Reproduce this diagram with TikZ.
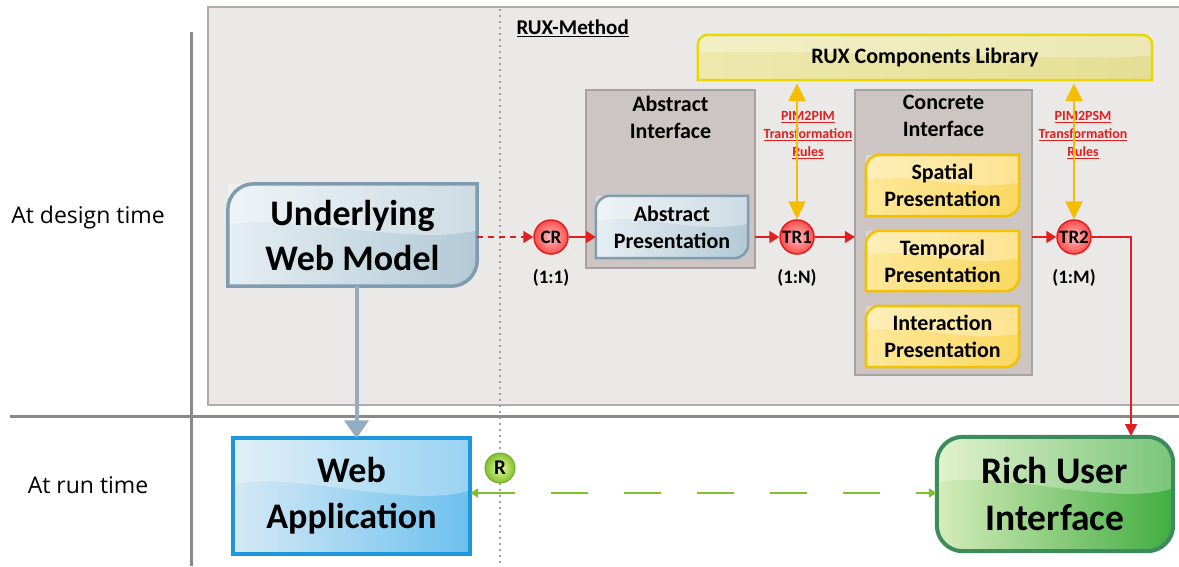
\documentclass[tikz,border=0pt]{standalone}
\usepackage{fontspec}
\setmainfont{Carlito}
\newfontfamily\osans{Open Sans}
\usetikzlibrary{arrows.meta,calc,shadings}
\pgfdeclarelayer{back}
\pgfdeclarelayer{bg}
\pgfsetlayers{back,bg,main}

\definecolor{regfill}{HTML}{EBE9E7}
\definecolor{regdraw}{HTML}{B3ABAB}
\definecolor{sepline}{HTML}{8A8A8A}
\definecolor{ifill}{HTML}{CDC4C4}
\definecolor{idraw}{HTML}{A9A1A1}
\definecolor{bluedraw}{HTML}{7F9CB0}
\definecolor{blueL}{HTML}{E6EEF3}
\definecolor{blueR}{HTML}{B2C9D5}
\definecolor{wadraw}{HTML}{1E96DC}
\definecolor{waL}{HTML}{D6E9F4}
\definecolor{waR}{HTML}{6CC0EE}
\definecolor{ruidraw}{HTML}{3D8A5C}
\definecolor{ruiL}{HTML}{D6ECBA}
\definecolor{ruiR}{HTML}{40AD40}
\definecolor{libdraw}{HTML}{E8D800}
\definecolor{libL}{HTML}{EDE9AE}
\definecolor{libR}{HTML}{E4DE94}
\definecolor{ydraw}{HTML}{F2C200}
\definecolor{yL}{HTML}{FDE89A}
\definecolor{yR}{HTML}{FBD862}
\definecolor{redc}{HTML}{E02020}
\definecolor{yarrow}{HTML}{F5BE00}
\definecolor{garrow}{HTML}{80C030}
\definecolor{bgarrow}{HTML}{94ADC0}

% path with rounded top-left and bottom-right corners
\newcommand{\tlbrpath}[2]{(#1.south west) -- ([yshift=-#2]#1.north west) arc[start angle=180,end angle=90,radius=#2] -- (#1.north east) -- ([yshift=#2]#1.south east) arc[start angle=0,end angle=-90,radius=#2] -- cycle}
% path with rounded top corners
\newcommand{\toppath}[2]{(#1.south west) -- ([yshift=-#2]#1.north west) arc[start angle=180,end angle=90,radius=#2] -- ([xshift=-#2]#1.north east) arc[start angle=90,end angle=0,radius=#2] -- (#1.south east) -- cycle}
% glossy highlight over the upper part of a node
\newcommand{\glossy}[2]{%
  \fill[white,opacity=#2] (#1.north west) -- ($(#1.north west)!0.40!(#1.south west)$)
    .. controls ($(#1.north west)!0.28!(#1.south west)+(60,0)$) and ($(#1.north east)!0.62!(#1.south east)+(-60,0)$) .. ($(#1.north east)!0.45!(#1.south east)$) -- (#1.north east) -- cycle;}

\tikzset{
  boxnode/.style={rectangle,inner sep=0pt,align=center,font=\bfseries},
  circnode/.style={circle,inner sep=0pt,minimum size=34pt,draw=redc,line width=1.5pt,
     inner color=red!25!white,outer color=red!70!white,font=\bfseries\fontsize{19}{19}\selectfont},
  redarrow/.style={draw=redc,line width=2pt,-{Triangle[length=10pt,width=12pt]},redc},
  yelarrow/.style={draw=yarrow,line width=2.5pt,{Triangle[length=18pt,width=17pt]}-{Triangle[length=18pt,width=17pt]},yarrow},
  ratio/.style={font=\bfseries\fontsize{19}{19}\selectfont},
  rulelabel/.style={align=center,text=redc,font=\bfseries\fontsize{14}{18}\selectfont},
  sidelabel/.style={font=\osans\fontsize{23}{23}\selectfont},
  midtext/.style={font=\bfseries\fontsize{22}{27}\selectfont},
}

\begin{document}
\begin{tikzpicture}[x=1pt,y=-1pt]
\useasboundingbox (0,0) rectangle (1179,566);

% ---------- background region and separators ----------
\begin{pgfonlayer}{back}
  \fill[white] (0,0) rectangle (1179,566);
  \path[fill=regfill,draw=regdraw,line width=1.5pt] (208,7) rectangle (1182,405);
  \draw[sepline,line width=3pt] (10,416) -- (1179,416);
  \draw[sepline,line width=3pt] (191,32) -- (191,566);
  \draw[sepline!80,line width=1.5pt,dash pattern=on 2pt off 4pt] (500,9) -- (500,566);
\end{pgfonlayer}

\node[sidelabel] (design) at (88,218) {At design time};
\node[sidelabel] (run) at (88,485) {At run time};

\node[anchor=west,font=\bfseries\fontsize{21}{21}\selectfont] (rux) at (513,28) {\underline{RUX-Method}};

% ---------- nodes ----------
\node[boxnode,minimum width=249pt,minimum height=102pt,font=\bfseries\fontsize{36}{45}\selectfont] (uwm) at (352.5,235) {Underlying\\Web Model};
\node[boxnode,minimum width=237pt,minimum height=115pt,font=\bfseries\fontsize{36}{46}\selectfont] (wa) at (351.5,496) {Web\\Application};
\node[boxnode,minimum width=236pt,minimum height=114pt,font=\bfseries\fontsize{37.5}{47}\selectfont] (rui) at (1055,494) {Rich User\\Interface};
\node[boxnode,minimum width=454pt,minimum height=45pt,font=\bfseries\fontsize{22}{22}\selectfont] (lib) at (925,57.5) {RUX Components Library};

\node[minimum width=169pt,minimum height=178pt,inner sep=0pt] (ai) at (670.5,179) {};
\node[align=center,midtext] (aititle) at (670.5,117) {Abstract\\Interface};
\node[boxnode,minimum width=152pt,minimum height=62pt,midtext] (ap) at (672,227) {Abstract\\Presentation};

\node[minimum width=177pt,minimum height=285pt,inner sep=0pt] (ci) at (943.5,232.5) {};
\node[align=center,midtext] (cititle) at (943.5,116) {Concrete\\Interface};
\node[boxnode,minimum width=153pt,minimum height=61pt,midtext] (sp) at (942.5,185.5) {Spatial\\Presentation};
\node[boxnode,minimum width=153pt,minimum height=60pt,midtext] (tp) at (942.5,261) {Temporal\\Presentation};
\node[boxnode,minimum width=153pt,minimum height=61pt,midtext] (ip) at (942.5,336.5) {Interaction\\Presentation};

\node[circnode] (cr) at (551,237) {CR};
\node[circnode] (tr1) at (797,237) {TR1};
\node[circnode] (tr2) at (1074,237) {TR2};
\node[ratio] (r1) at (551,278) {(1:1)};
\node[ratio] (r2) at (797,278) {(1:N)};
\node[ratio] (r3) at (1074,278) {(1:M)};

\node[circle,inner sep=0pt,minimum size=30pt,draw=garrow!90!black,line width=1pt,
      inner color=green!20!yellow!40!white,outer color=garrow,font=\bfseries\fontsize{21}{21}\selectfont] (rr) at (500,468) {R};

\node[rulelabel] (pim1) at (808,135) {\underline{PIM2PIM}\\\underline{Transformation}\\\underline{Rules}};
\node[rulelabel] (pim2) at (1083,135) {\underline{PIM2PSM}\\\underline{Transformation}\\\underline{Rules}};

\coordinate (ruitop) at (1131,436);

% ---------- shapes (behind texts) ----------
\begin{pgfonlayer}{bg}
  \path[fill=ifill,draw=idraw,line width=2pt] (ai.north west) rectangle (ai.south east);
  \path[fill=ifill,draw=idraw,line width=2pt] (ci.north west) rectangle (ci.south east);

  \path[left color=blueL,right color=blueR] \tlbrpath{uwm}{26pt};
  \glossy{uwm}{0.35}
  \path[draw=bluedraw,line width=3.5pt] \tlbrpath{uwm}{26pt};

  \path[left color=blueL,right color=blueR] \tlbrpath{ap}{14pt};
  \glossy{ap}{0.35}
  \path[draw=bluedraw,line width=2.5pt] \tlbrpath{ap}{14pt};

  \foreach \n in {sp,tp,ip}{
    \path[left color=yL,right color=yR] \tlbrpath{\n}{14pt};
    \glossy{\n}{0.3}
    \path[draw=ydraw,line width=2.5pt] \tlbrpath{\n}{14pt};
  }

  \path[left color=libL,right color=libR] \toppath{lib}{10pt};
  \glossy{lib}{0.3}
  \path[draw=libdraw,line width=2.5pt] \toppath{lib}{10pt};

  \path[left color=waL,right color=waR] (wa.north west) rectangle (wa.south east);
  \glossy{wa}{0.3}
  \path[draw=wadraw,line width=4pt] (wa.north west) rectangle (wa.south east);

  \path[left color=ruiL,right color=ruiR,rounded corners=26pt] (rui.north west) rectangle (rui.south east);
  \begin{scope}
    \clip[rounded corners=26pt] (rui.north west) rectangle (rui.south east);
    \glossy{rui}{0.3}
  \end{scope}
  \path[draw=ruidraw,line width=4pt,rounded corners=26pt] (rui.north west) rectangle (rui.south east);
\end{pgfonlayer}

% ---------- connectors ----------
\draw[redarrow,dash pattern=on 6pt off 5pt] (uwm.east |- cr) -- (cr.west);
\draw[redarrow] (cr.east) -- (ap.west |- cr);
\draw[redarrow] (ai.east |- tr1) -- (tr1.west);
\draw[redarrow] (tr1.east) -- (ci.west |- tr1);
\draw[redarrow] (ci.east |- tr2) -- (tr2.west);
\draw[redc,line width=2pt,-{Triangle[length=12pt,width=12pt]}] (tr2.east) -| (ruitop);

\draw[yelarrow] ([yshift=-3pt]lib.south -| tr1) -- (tr1.north);
\draw[yelarrow] ([yshift=-3pt]lib.south -| tr2) -- (tr2.north);

\draw[bgarrow,line width=4pt,-{Triangle[length=18pt,width=24pt]}] ([xshift=4pt]uwm.south) -- ([xshift=4pt]uwm.south |- wa.north);

\draw[garrow,line width=2.5pt,dash pattern=on 37pt off 36pt,{Triangle[length=8pt,width=9pt]}-{Triangle[length=8pt,width=9pt]}] (wa.east |- 0,493) -- (rui.west |- 0,493);

\end{tikzpicture}
\end{document}
